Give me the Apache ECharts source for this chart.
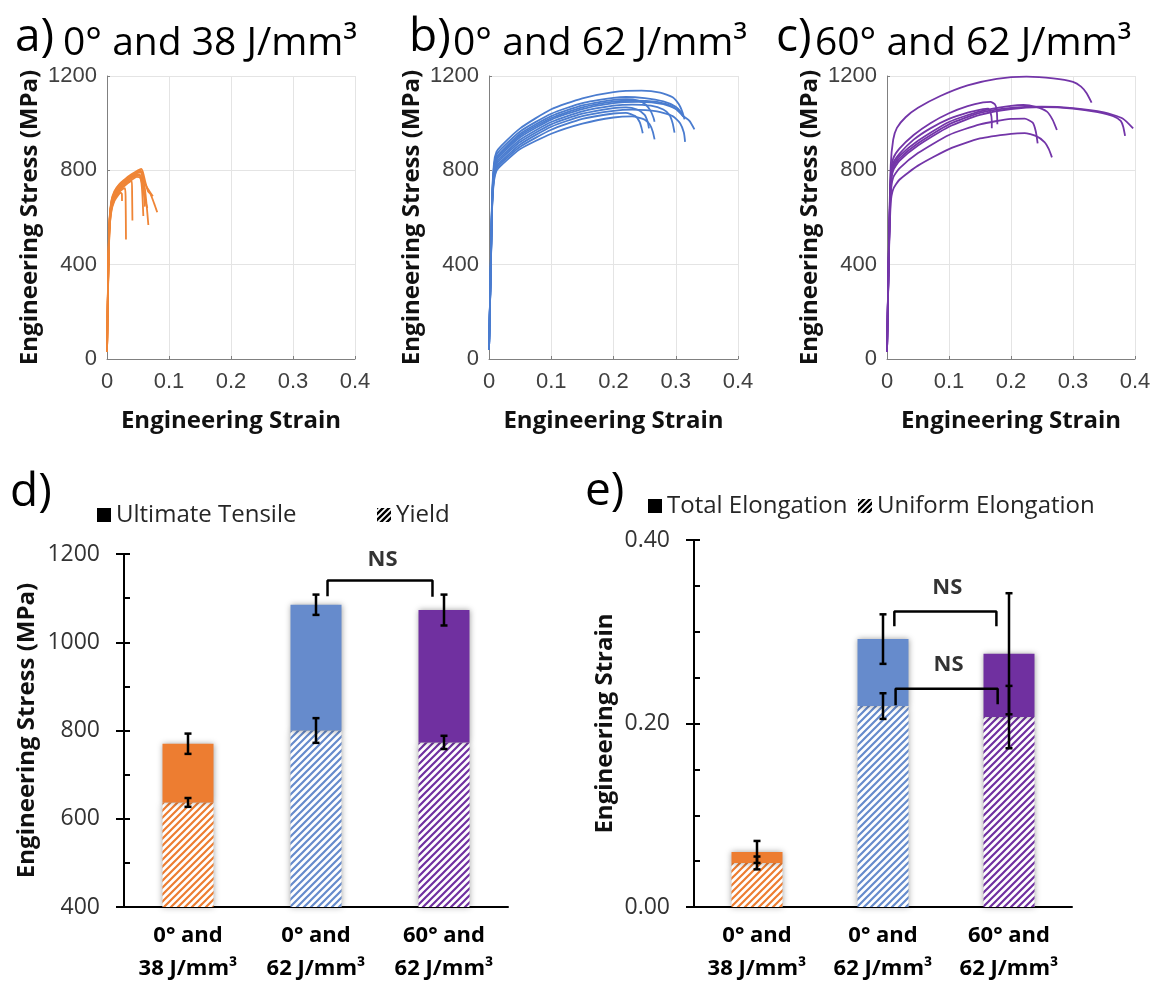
<!DOCTYPE html>
<html>
<head>
<meta charset="utf-8">
<title>Tensile results</title>
<script src="https://cdn.jsdelivr.net/npm/echarts@6/dist/echarts.min.js"></script>
<style>
  html, body { margin: 0; padding: 0; background: #fff; }
  #chart { width: 1156px; height: 981px; }
</style>
</head>
<body>
<div id="chart"></div>
<script>
var curvesA = [
  [[0,30],[0.002,380],[0.004,590],[0.007,670],[0.012,712],[0.02,742],[0.03,765],[0.04,784],[0.05,800],[0.055,806],[0.058,792],[0.062,748],[0.066,712],[0.07,700],[0.076,660],[0.081,622]],
  [[0,30],[0.002,370],[0.004,580],[0.007,660],[0.012,703],[0.02,733],[0.03,757],[0.04,775],[0.05,790],[0.054,794],[0.057,772],[0.061,725],[0.064,650],[0.0667,568]],
  [[0,30],[0.002,360],[0.004,570],[0.007,655],[0.012,697],[0.02,727],[0.03,750],[0.04,768],[0.049,782],[0.052,784],[0.055,760],[0.057,700],[0.0586,606]],
  [[0,30],[0.002,360],[0.004,560],[0.007,645],[0.012,690],[0.02,720],[0.03,744],[0.04,760],[0.048,772],[0.053,770],[0.057,740],[0.06,700],[0.063,660],[0.065,640]],
  [[0,30],[0.002,350],[0.004,550],[0.007,640],[0.012,685],[0.02,715],[0.03,738],[0.037,752],[0.04,755],[0.0405,700],[0.041,587]],
  [[0,30],[0.002,350],[0.004,545],[0.007,630],[0.012,678],[0.02,708],[0.026,722],[0.029,724],[0.03,690],[0.0306,507]],
  [[0,30],[0.002,340],[0.004,540],[0.007,625],[0.012,670],[0.018,695],[0.022,705],[0.024,700],[0.0242,670]],
  [[0,30],[0.002,365],[0.004,575],[0.007,660],[0.012,700],[0.02,730],[0.03,753],[0.04,770],[0.048,779],[0.053,778],[0.056,765],[0.059,720],[0.061,646]],
  [[0,30],[0.002,375],[0.004,585],[0.007,665],[0.012,708],[0.02,738],[0.03,761],[0.04,779],[0.05,795],[0.053,800],[0.057,790],[0.06,755],[0.065,725],[0.07,705],[0.074,690]]
];
var curvesB = [
  [[0,40],[0.003,420],[0.005,690],[0.008,830],[0.012,878],[0.02,905],[0.05,978],[0.1,1059],[0.15,1105],[0.2,1132],[0.245,1138],[0.275,1130],[0.295,1110],[0.305,1080],[0.311,1045],[0.314,1016]],
  [[0,40],[0.003,420],[0.005,680],[0.008,815],[0.012,865],[0.02,892],[0.05,965],[0.1,1040],[0.15,1085],[0.2,1107],[0.22,1111],[0.25,1106],[0.28,1092],[0.3,1070],[0.308,1048],[0.312,1027]],
  [[0,40],[0.003,415],[0.005,670],[0.008,805],[0.012,853],[0.02,880],[0.05,955],[0.1,1030],[0.15,1075],[0.2,1099],[0.22,1102],[0.24,1096],[0.252,1078],[0.26,1050],[0.264,1025],[0.266,1006]],
  [[0,40],[0.003,410],[0.005,665],[0.008,795],[0.012,842],[0.02,868],[0.05,940],[0.1,1015],[0.15,1060],[0.2,1085],[0.24,1090],[0.28,1081],[0.3,1060],[0.312,1030],[0.322,1010],[0.33,974]],
  [[0,40],[0.003,405],[0.005,660],[0.008,785],[0.012,832],[0.02,858],[0.05,930],[0.1,1005],[0.15,1050],[0.2,1074],[0.23,1079],[0.26,1074],[0.28,1058],[0.29,1035],[0.295,1000],[0.298,960]],
  [[0,40],[0.003,400],[0.005,655],[0.008,780],[0.012,826],[0.02,850],[0.05,920],[0.1,995],[0.15,1040],[0.2,1064],[0.22,1067],[0.238,1058],[0.25,1035],[0.255,1005],[0.257,978]],
  [[0,40],[0.003,400],[0.005,650],[0.008,772],[0.012,816],[0.02,840],[0.05,910],[0.1,985],[0.15,1030],[0.2,1052],[0.23,1057],[0.27,1050],[0.295,1030],[0.307,1000],[0.313,960],[0.315,921]],
  [[0,40],[0.003,395],[0.005,645],[0.008,765],[0.012,808],[0.02,832],[0.05,900],[0.1,972],[0.15,1018],[0.2,1041],[0.22,1044],[0.235,1030],[0.242,1005],[0.245,980],[0.247,957]],
  [[0,40],[0.003,390],[0.005,640],[0.008,755],[0.012,798],[0.02,822],[0.05,890],[0.1,955],[0.15,998],[0.2,1024],[0.23,1029],[0.25,1015],[0.258,995],[0.263,965],[0.266,931]],
  [[0,40],[0.003,410],[0.005,668],[0.008,800],[0.012,848],[0.02,875],[0.05,948],[0.1,1022],[0.15,1067],[0.2,1091],[0.23,1095],[0.27,1090],[0.29,1076],[0.3,1062],[0.31,1042]]
];
var curvesC = [
  [[0,30],[0.003,480],[0.006,820],[0.01,930],[0.016,980],[0.03,1025],[0.05,1065],[0.086,1115],[0.13,1160],[0.177,1188],[0.225,1197],[0.268,1190],[0.3,1175],[0.313,1155],[0.322,1127],[0.33,1087]],
  [[0,30],[0.003,470],[0.006,780],[0.01,850],[0.02,892],[0.043,950],[0.07,1000],[0.1,1042],[0.13,1072],[0.155,1088],[0.167,1090],[0.174,1080],[0.177,1055],[0.178,995]],
  [[0,30],[0.003,460],[0.006,760],[0.01,830],[0.02,870],[0.043,930],[0.07,978],[0.1,1018],[0.13,1045],[0.155,1060],[0.163,1062],[0.167,1045],[0.169,1010],[0.169,978]],
  [[0,30],[0.003,455],[0.006,750],[0.01,820],[0.02,860],[0.05,925],[0.1,1005],[0.15,1050],[0.2,1073],[0.22,1077],[0.24,1069],[0.258,1049],[0.267,1015],[0.274,971]],
  [[0,30],[0.003,450],[0.006,735],[0.01,800],[0.02,840],[0.05,905],[0.1,985],[0.15,1035],[0.2,1060],[0.25,1068],[0.3,1062],[0.34,1047],[0.365,1030],[0.377,1010],[0.381,985],[0.384,946]],
  [[0,30],[0.003,452],[0.006,742],[0.01,810],[0.02,850],[0.05,915],[0.1,995],[0.15,1044],[0.2,1065],[0.25,1070],[0.3,1064],[0.35,1046],[0.38,1020],[0.397,978]],
  [[0,30],[0.003,440],[0.006,700],[0.01,770],[0.02,808],[0.05,873],[0.1,950],[0.15,995],[0.2,1018],[0.222,1019],[0.235,1002],[0.24,965],[0.243,914]],
  [[0,30],[0.003,430],[0.006,660],[0.01,720],[0.02,760],[0.05,820],[0.1,890],[0.15,935],[0.2,955],[0.222,958],[0.24,946],[0.254,920],[0.261,890],[0.266,855]]
];

// bar panels d and e
var groups = ['0° and\n38 J/mm³', '0° and\n62 J/mm³', '60° and\n62 J/mm³'];
var utsMean = [770, 1085, 1073];
var utsSd = [23, 23, 35];
var yieldMean = [637, 800, 773];
var yieldSd = [10, 28, 15];
var totalElong = [0.060, 0.292, 0.276];
var totalElongSd = [0.012, 0.027, 0.066];
var uniformElong = [0.048, 0.219, 0.207];
var uniformElongSd = [0.007, 0.014, 0.034];

// "NS" brackets, x in category units (0 = first bar)
var bracketD = [[1.09, 1104], [1.09, 1140], [1.91, 1140], [1.91, 1103]];
var bracketE1 = [[1.09, 0.306], [1.09, 0.322], [1.90, 0.322], [1.90, 0.306]];
var bracketE2 = [[1.10, 0.220], [1.10, 0.238], [1.91, 0.238], [1.91, 0.221]];
var nsD = [[1.52, 1188]];
var nsE = [[1.51, 0.348], [1.52, 0.264]];

var barColors = ['#ED7D31', '#668BCC', '#7030A0'];
var FONT = '"Open Sans", sans-serif';

function makeHatch(color, s, lw) {
  var c = document.createElement('canvas');
  c.width = s; c.height = s;
  var g = c.getContext('2d');
  g.fillStyle = '#fff';
  g.fillRect(0, 0, s, s);
  g.strokeStyle = color;
  g.lineWidth = lw;
  g.beginPath();
  g.moveTo(-1, s + 1); g.lineTo(s + 1, -1);
  g.moveTo(-1, 1); g.lineTo(1, -1);
  g.moveTo(s - 1, s + 1); g.lineTo(s + 1, s - 1);
  g.stroke();
  return { image: c, repeat: 'repeat' };
}

var chart = echarts.init(document.getElementById('chart'));

var nameStyle = { fontFamily: FONT, fontWeight: 'bold', fontSize: 24, color: '#111' };
function plain(v) { return String(v); }

function curveAxes(i) {
  var x = {
    type: 'value', gridIndex: i, min: 0, max: 0.4, interval: 0.1,
    name: 'Engineering Strain', nameLocation: 'middle', nameGap: 50, nameTextStyle: nameStyle,
    axisLine: { show: true, onZero: false, lineStyle: { color: '#808080', width: 1 } },
    axisTick: { show: true, inside: true, length: 3, lineStyle: { color: '#808080' } },
    axisLabel: { fontFamily: 'Liberation Sans', fontSize: 22, color: '#404040', margin: 12,
      formatter: function (v) { return v === 0 ? '0' : String(+v.toFixed(1)); } },
    splitLine: { show: true, lineStyle: { color: '#e4e4e4', width: 1 } }
  };
  var y = {
    type: 'value', gridIndex: i, min: 0, max: 1200, interval: 400,
    name: 'Engineering Stress (MPa)', nameLocation: 'middle', nameGap: 65, nameTextStyle: nameStyle,
    axisLine: { show: true, onZero: false, lineStyle: { color: '#808080', width: 1 } },
    axisTick: { show: true, inside: true, length: 3, lineStyle: { color: '#808080' } },
    axisLabel: { fontFamily: 'Liberation Sans', fontSize: 22, color: '#404040', margin: 10, formatter: plain },
    splitLine: { show: true, lineStyle: { color: '#e4e4e4', width: 1 } }
  };
  return { x: x, y: y };
}

function barXAxis(i) {
  return {
    type: 'category', gridIndex: i, data: groups,
    axisLine: { show: true, onZero: false, lineStyle: { color: '#000', width: 2 } },
    axisTick: { show: false },
    axisLabel: { fontFamily: FONT, fontWeight: 'bold', fontSize: 22, color: '#000', lineHeight: 33, margin: 12, interval: 0 },
    splitLine: { show: false }
  };
}

function hiddenX(i) {
  return { type: 'value', gridIndex: i, min: -0.5, max: 2.5, show: false, axisLine: { onZero: false } };
}

function tickAxis(i, min, max, step) {
  return {
    type: 'value', gridIndex: i, position: 'left', min: min, max: max, interval: step,
    axisLine: { show: false, onZero: false }, axisLabel: { show: false }, splitLine: { show: false },
    axisTick: { show: true, inside: true, length: 6, lineStyle: { color: '#000', width: 2 } }
  };
}

var axA = curveAxes(0), axB = curveAxes(1), axC = curveAxes(2);

var xAxes = [axA.x, axB.x, axC.x, barXAxis(3), barXAxis(4), hiddenX(3), hiddenX(4)];
var yAxes = [axA.y, axB.y, axC.y,
  {
    type: 'value', gridIndex: 3, position: 'left', min: 400, max: 1200, interval: 200,
    name: 'Engineering Stress (MPa)', nameLocation: 'middle', nameGap: 85, nameTextStyle: nameStyle,
    axisLine: { show: true, onZero: false, lineStyle: { color: '#000', width: 2 } },
    axisTick: { show: true, length: 8, lineStyle: { color: '#000', width: 2 } },
    axisLabel: { fontFamily: FONT, fontSize: 23, color: '#333', margin: 24, formatter: plain },
    splitLine: { show: false }
  },
  {
    type: 'value', gridIndex: 4, position: 'left', min: 0, max: 0.4, interval: 0.2,
    name: 'Engineering Strain', nameLocation: 'middle', nameGap: 77, nameTextStyle: nameStyle,
    axisLine: { show: true, onZero: false, lineStyle: { color: '#000', width: 2 } },
    axisTick: { show: true, length: 8, lineStyle: { color: '#000', width: 2 } },
    axisLabel: { fontFamily: FONT, fontSize: 23, color: '#333', margin: 24,
      formatter: function (v) { return v.toFixed(2); } },
    splitLine: { show: false }
  },
  tickAxis(3, 400, 1200, 100),
  tickAxis(4, 0, 0.4, 0.05)
];

var series = [];
function addCurves(list, k, color) {
  list.forEach(function (c) {
    series.push({
      type: 'line', xAxisIndex: k, yAxisIndex: k, data: c,
      symbol: 'none', smooth: 0.2, silent: true,
      lineStyle: { color: color, width: 1.8 }
    });
  });
}
addCurves(curvesA, 0, '#EF8536');
addCurves(curvesB, 1, '#4A7CCF');
addCurves(curvesC, 2, '#7335A8');

var barShadow = { shadowBlur: 6, shadowColor: 'rgba(0,0,0,0.38)' };

function stackedBars(k, lowName, topName, low, top, width) {
  series.push({
    type: 'bar', name: lowName, xAxisIndex: k, yAxisIndex: k, stack: 's' + k,
    barWidth: width, silent: true,
    data: low.map(function (v, i) {
      return { value: v, itemStyle: Object.assign({ color: makeHatch(barColors[i], 7, 2.2) }, barShadow) };
    })
  });
  series.push({
    type: 'bar', name: topName, xAxisIndex: k, yAxisIndex: k, stack: 's' + k,
    barWidth: width, silent: true,
    data: top.map(function (v, i) {
      return { value: v - low[i], itemStyle: Object.assign({ color: barColors[i] }, barShadow) };
    })
  });
}
stackedBars(3, 'Yield', 'Ultimate Tensile', yieldMean, utsMean, 51);
stackedBars(4, 'Uniform Elongation', 'Total Elongation', uniformElong, totalElong, 51);

function renderErr(params, api) {
  var x = api.value(0), m = api.value(1), s = api.value(2);
  var hi = api.coord([x, m + s]), lo = api.coord([x, m - s]);
  var w = 3.5;
  function seg(x1, y1, x2, y2) {
    return { type: 'line', shape: { x1: x1, y1: y1, x2: x2, y2: y2 }, style: { stroke: '#000', lineWidth: 2.5 } };
  }
  return {
    type: 'group',
    children: [
      seg(hi[0], hi[1], lo[0], lo[1]),
      seg(hi[0] - w, hi[1], hi[0] + w, hi[1]),
      seg(lo[0] - w, lo[1], lo[0] + w, lo[1])
    ]
  };
}
function errData(mean, sd) {
  return mean.map(function (m, i) { return [i, m, sd[i]]; });
}
[[3, utsMean, utsSd], [3, yieldMean, yieldSd], [4, totalElong, totalElongSd], [4, uniformElong, uniformElongSd]]
  .forEach(function (e) {
    series.push({
      type: 'custom', xAxisIndex: e[0], yAxisIndex: e[0], renderItem: renderErr,
      data: errData(e[1], e[2]), z: 5, silent: true
    });
  });

function bracket(k, pts) {
  series.push({
    type: 'line', xAxisIndex: k + 2, yAxisIndex: k, data: pts, symbol: 'none',
    lineStyle: { color: '#000', width: 2.5 }, z: 6, silent: true
  });
}
bracket(3, bracketD);
bracket(4, bracketE1);
bracket(4, bracketE2);

function nsLabels(k, pts) {
  series.push({
    type: 'scatter', xAxisIndex: k + 2, yAxisIndex: k, data: pts, symbolSize: 1,
    itemStyle: { color: 'rgba(0,0,0,0)' }, z: 6, silent: true,
    label: { show: true, position: 'inside', formatter: 'NS', fontFamily: FONT,
      fontWeight: 'bold', fontSize: 22, color: '#000' }
  });
}
nsLabels(3, nsD);
nsLabels(4, nsE);

var legendText = { fontFamily: FONT, fontSize: 24, color: '#262626' };
var blackHatch = makeHatch('#000', 6, 2.4);
function legendAt(left, top, name, color) {
  return {
    left: left, top: top, padding: 0, itemWidth: 14, itemHeight: 14, itemGap: 8,
    selectedMode: false, textStyle: legendText,
    data: [{ name: name, icon: 'rect', itemStyle: { color: color, borderWidth: 0, shadowBlur: 0 } }]
  };
}

function label(x, y, text, size) {
  return {
    type: 'text', x: x, y: y,
    style: { text: text, font: size + 'px ' + FONT, fill: '#000', textVerticalAlign: 'middle' }
  };
}

chart.setOption({
  animation: false,
  grid: [
    { left: 107, top: 76, width: 248, height: 283, outerBoundsMode: 'none', containLabel: false },
    { left: 489, top: 76, width: 249, height: 283, outerBoundsMode: 'none', containLabel: false },
    { left: 887, top: 76, width: 248, height: 283, outerBoundsMode: 'none', containLabel: false },
    { left: 124, top: 554, width: 384, height: 353, outerBoundsMode: 'none', containLabel: false },
    { left: 694, top: 540, width: 378, height: 367, outerBoundsMode: 'none', containLabel: false }
  ],
  xAxis: xAxes,
  yAxis: yAxes,
  legend: [
    legendAt(97, 503, 'Ultimate Tensile', '#000'),
    legendAt(377, 503, 'Yield', blackHatch),
    legendAt(648, 494, 'Total Elongation', '#000'),
    legendAt(858, 494, 'Uniform Elongation', blackHatch)
  ],
  graphic: [
    label(15, 38, 'a)', 46),
    label(63, 44, '0° and 38 J/mm³', 39),
    label(409, 38, 'b)', 46),
    label(453, 44, '0° and 62 J/mm³', 39),
    label(776, 38, 'c)', 46),
    label(815, 44, '60° and 62 J/mm³', 39),
    label(10, 493, 'd)', 46),
    label(585, 492, 'e)', 46)
  ],
  series: series
});
</script>
</body>
</html>
